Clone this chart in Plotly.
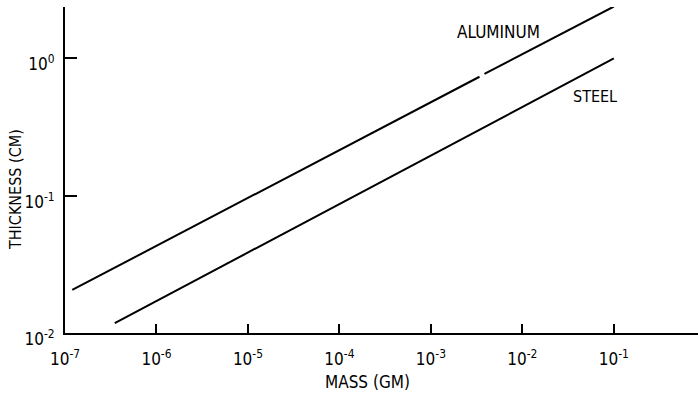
import plotly.graph_objects as go

# Data (log-log)
aluminum_mass = [1.2e-7, 3.4e-3, None, 3.85e-3, 1e-1]
aluminum_thick = [0.0206, 0.736, None, 0.771, 2.39]
steel_mass = [3.5e-7, 1e-1]
steel_thick = [0.0118, 1.0]

x_tickvals = [1e-7, 1e-6, 1e-5, 1e-4, 1e-3, 1e-2, 1e-1]
x_ticktext = ["10<sup>-7</sup>", "10<sup>-6</sup>", "10<sup>-5</sup>", "10<sup>-4</sup>",
              "10<sup>-3</sup>", "10<sup>-2</sup>", "10<sup>-1</sup>"]
y_tickvals = [1e-2, 1e-1, 1e0]
y_ticktext = ["10<sup>-2</sup>", "10<sup>-1</sup>", "10<sup>0</sup>"]

FONT = "DejaVu Sans Condensed, Liberation Sans Narrow, DejaVu Sans, sans-serif"

fig = go.Figure()
fig.add_trace(go.Scatter(x=aluminum_mass, y=aluminum_thick, mode="lines",
                         line=dict(color="black", width=2), connectgaps=False,
                         name="ALUMINUM", showlegend=False))
fig.add_trace(go.Scatter(x=steel_mass, y=steel_thick, mode="lines",
                         line=dict(color="black", width=2),
                         name="STEEL", showlegend=False))

fig.update_layout(
    width=698, height=397,
    margin=dict(l=65, r=0, t=7, b=64, autoexpand=False),
    plot_bgcolor="white", paper_bgcolor="white",
    font=dict(family=FONT, color="black", size=16),
    xaxis=dict(type="log", range=[-7, -0.08], showgrid=False, zeroline=False,
               automargin=False,
               showline=True, linecolor="black", linewidth=2,
               ticks="inside", ticklen=9, tickwidth=1.5, tickcolor="black",
               tickvals=x_tickvals, ticktext=x_ticktext,
               ticklabelstandoff=10,
               tickfont=dict(size=17, family=FONT)),
    yaxis=dict(type="log", range=[-2, 0.375], showgrid=False, zeroline=False,
               automargin=False,
               showline=True, linecolor="black", linewidth=2,
               ticks="inside", ticklen=12, tickwidth=1.5, tickcolor="black",
               tickvals=y_tickvals, ticktext=y_ticktext,
               ticklabelstandoff=5, ticklabelshift=6,
               tickfont=dict(size=17, family=FONT)),
    annotations=[
        dict(text="MASS (GM)", xref="paper", yref="paper",
             x=(367 - 65) / (698 - 65), y=-(382 - 333) / 326,
             showarrow=False, font=dict(size=17, family=FONT),
             xanchor="center", yanchor="middle"),
        dict(text="THICKNESS (CM)", xref="paper", yref="paper",
             x=-(65 - 15) / 633, y=(333 - 190) / 326, textangle=-90,
             showarrow=False, font=dict(size=16, family=FONT),
             xanchor="center", yanchor="middle"),
        dict(text="ALUMINUM", xref="paper", yref="paper",
             x=(498 - 65) / 633, y=(333 - 32) / 326,
             showarrow=False, font=dict(size=17, family=FONT),
             xanchor="center", yanchor="middle"),
        dict(text="STEEL", xref="paper", yref="paper",
             x=(595 - 65) / 633, y=(333 - 97) / 326,
             showarrow=False, font=dict(size=16, family=FONT),
             xanchor="center", yanchor="middle"),
    ],
)

fig.write_html("out.html", config={"displayModeBar": False},
               post_script="document.body.style.margin='0';document.body.style.padding='0';")
